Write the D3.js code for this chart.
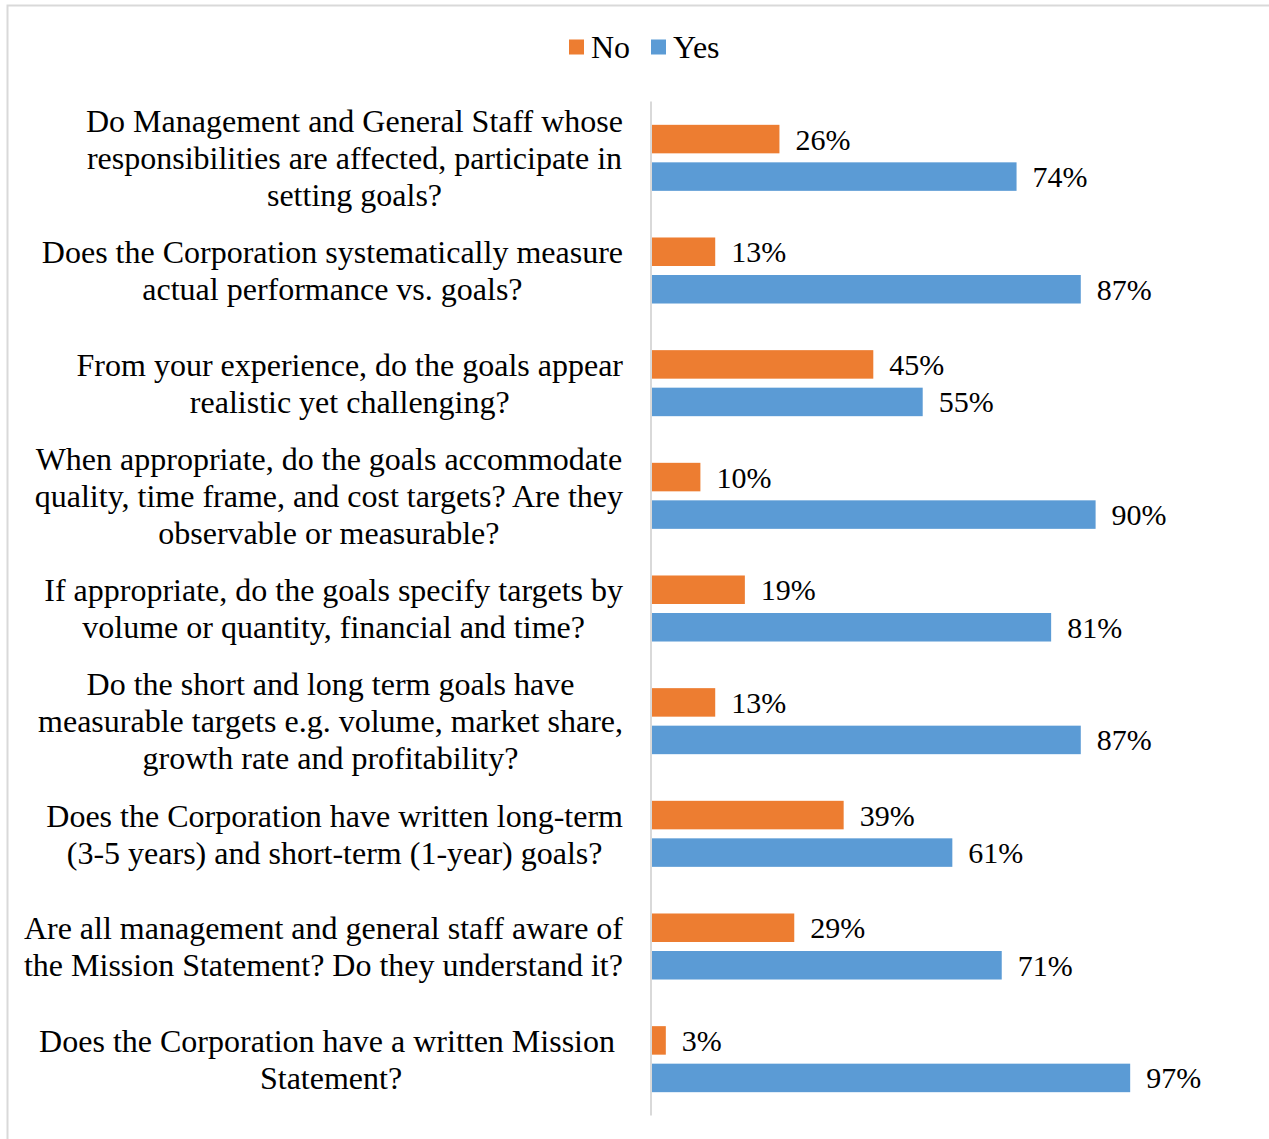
<!DOCTYPE html>
<html>
<head>
<meta charset="utf-8">
<script src="https://cdn.jsdelivr.net/npm/d3@7"></script>
<style>
  html, body { margin: 0; padding: 0; background: #fff; }
  svg text { font-family: "Liberation Serif", "Times New Roman", serif; fill: #000; }
</style>
</head>
<body>
<svg id="chart" width="1269" height="1139"></svg>
<script>
// Survey questions, one entry per line of the wrapped label
const questions = [
  ["Do Management and General Staff whose", "responsibilities are affected, participate in", "setting goals?"],
  ["Does the Corporation systematically measure", "actual performance vs. goals?"],
  ["From your experience, do the goals appear", "realistic yet challenging?"],
  ["When appropriate, do the goals accommodate", "quality, time frame, and cost targets? Are they", "observable or measurable?"],
  ["If appropriate, do the goals specify targets by", "volume or quantity, financial and time?"],
  ["Do the short and long term goals have", "measurable targets e.g. volume, market share,", "growth rate and profitability?"],
  ["Does the Corporation have written long-term", "(3-5 years) and short-term (1-year) goals?"],
  ["Are all management and general staff aware of", "the Mission Statement? Do they understand it?"],
  ["Does the Corporation have a written Mission ", "Statement?"]
];
const seriesNames = ["No", "Yes"];
const noValues  = [26, 13, 45, 10, 19, 13, 39, 29, 3];
const yesValues = [74, 87, 55, 90, 81, 87, 61, 71, 97];
const colors = ["#ED7D31", "#5B9BD5"];

const svg = d3.select("#chart");
const W = 1269, H = 1139;

// outer frame
svg.append("rect")
  .attr("x", 7.5).attr("y", 5.5)
  .attr("width", W + 10).attr("height", H + 10)
  .attr("fill", "#fff").attr("stroke", "#d9d9d9").attr("stroke-width", 2);

const axisX = 651;
const x = d3.scaleLinear().domain([0, 100]).range([axisX, axisX + 494]);

const idx = d3.range(questions.length);
const y = d3.scaleBand().domain(idx).range([101.5, 1115.5])
  .paddingInner(0.414).paddingOuter(0.207);
const ySub = d3.scaleBand().domain([0, 1]).range([0, y.bandwidth()]).paddingInner(0.24);

const rows = idx.map(i => ({ i, vals: [noValues[i], yesValues[i]] }));

const g = svg.append("g");
const groups = g.selectAll("g.row").data(rows).join("g")
  .attr("class", "row")
  .attr("transform", d => `translate(0,${y(d.i)})`);

groups.selectAll("rect").data(d => d.vals.map((v, s) => ({ v, s }))).join("rect")
  .attr("x", x(0))
  .attr("y", d => ySub(d.s))
  .attr("width", d => x(d.v) - x(0))
  .attr("height", ySub.bandwidth())
  .attr("fill", d => colors[d.s]);

groups.selectAll("text.val").data(d => d.vals.map((v, s) => ({ v, s }))).join("text")
  .attr("class", "val")
  .attr("x", d => x(d.v) + 16)
  .attr("y", d => ySub(d.s) + ySub.bandwidth() / 2)
  .attr("dy", "0.35em")
  .style("font-size", "30px")
  .text(d => d.v + "%");

// vertical category axis line
svg.append("line")
  .attr("x1", axisX).attr("x2", axisX)
  .attr("y1", y.range()[0]).attr("y2", y.range()[1])
  .attr("stroke", "#d9d9d9").attr("stroke-width", 2);

// category labels: each block centred on itself, right edge at the axis gap
const lineH = 37;
const labelRight = 623;
rows.forEach(d => {
  const lines = questions[d.i];
  const cy = y(d.i) + y.bandwidth() / 2;
  const t = svg.append("text")
    .style("font-size", "32px")
    .style("white-space", "pre")
    .attr("text-anchor", "middle");
  const spans = lines.map((ln, k) => t.append("tspan")
    .attr("y", cy + (k - (lines.length - 1) / 2) * lineH)
    .attr("dy", "0.35em")
    .text(ln));
  const maxW = d3.max(spans, s => s.node().getComputedTextLength());
  spans.forEach(s => s.attr("x", labelRight - maxW / 2));
});

// legend
const legend = svg.append("g").attr("transform", "translate(569,47)");
const legendX = [0, 82];
seriesNames.forEach((name, s) => {
  legend.append("rect")
    .attr("x", legendX[s]).attr("y", -7.5)
    .attr("width", 15).attr("height", 15)
    .attr("fill", colors[s]);
  legend.append("text")
    .attr("x", legendX[s] + 22).attr("y", 0).attr("dy", "0.33em")
    .style("font-size", "32px")
    .text(name);
});
</script>
</body>
</html>
